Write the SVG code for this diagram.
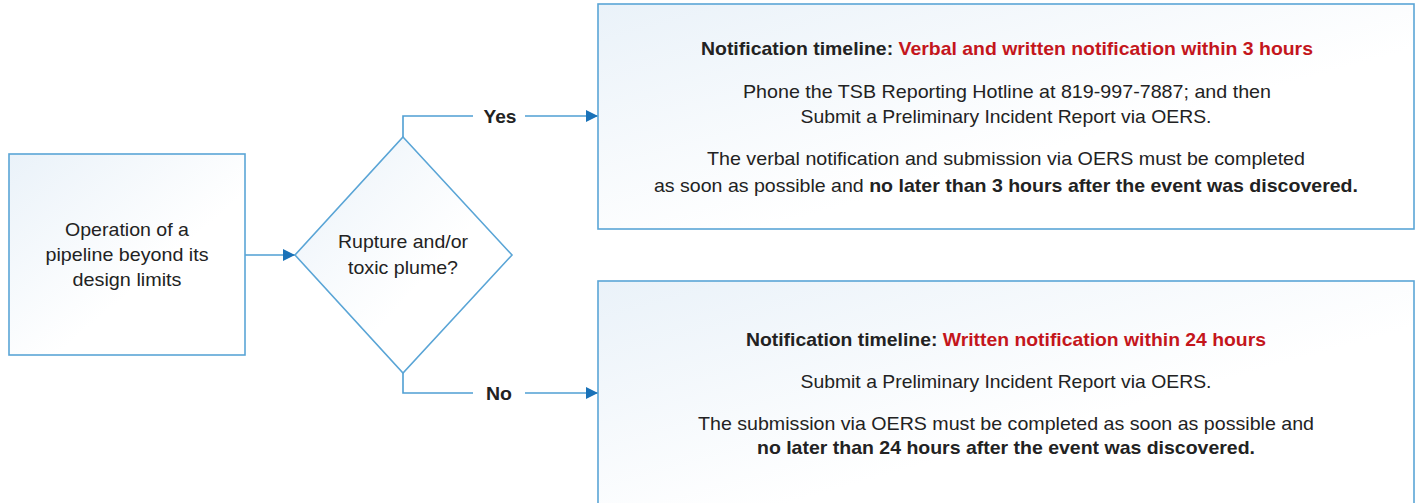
<svg xmlns="http://www.w3.org/2000/svg" width="1418" height="503" viewBox="0 0 1418 503">
<style>
.box{stroke:#5aa5d6;stroke-width:1.6;fill:url(#g)}
.ln{stroke:#4f9fd3;stroke-width:1.6;fill:none}
text{font-family:"Liberation Sans",Arial,sans-serif;font-size:19px;fill:#222;text-anchor:middle;dominant-baseline:central}
.b{font-weight:bold}
.r{fill:#c4161c;font-weight:bold}
</style>
<defs>
<linearGradient id="g" x1="0" y1="0" x2="1" y2="1">
<stop offset="0" stop-color="#eaf2f9"/>
<stop offset="0.6" stop-color="#ffffff"/>
</linearGradient>
<marker id="ah" markerWidth="12" markerHeight="12" viewBox="0 0 12 12" refX="12" refY="6" orient="auto" markerUnits="userSpaceOnUse">
<path d="M0,0 L12,6 L0,12 Z" fill="#1a72b8"/>
</marker>
</defs>
<g id="connectors">
<path class="ln" d="M245,255 L295,255" marker-end="url(#ah)"/>
<path class="ln" d="M403,137 L403,116 L473,116"/>
<path class="ln" d="M525,116 L598,116" marker-end="url(#ah)"/>
<path class="ln" d="M403,373 L403,393 L473,393"/>
<path class="ln" d="M525,393 L598,393" marker-end="url(#ah)"/>
<text class="b" x="500" y="116" textLength="33" lengthAdjust="spacingAndGlyphs">Yes</text>
<text class="b" x="499" y="393" textLength="26" lengthAdjust="spacingAndGlyphs">No</text>
</g>
<g id="start">
<rect class="box" x="9" y="154" width="236" height="201"/>
<text x="127" y="229" textLength="124" lengthAdjust="spacingAndGlyphs">Operation of a</text>
<text x="127" y="254" textLength="163" lengthAdjust="spacingAndGlyphs">pipeline beyond its</text>
<text x="127" y="279" textLength="109" lengthAdjust="spacingAndGlyphs">design limits</text>
</g>
<g id="decision">
<polygon class="box" points="403,137 512,255 403,373 295,255"/>
<text x="403" y="241" textLength="130" lengthAdjust="spacingAndGlyphs">Rupture and/or</text>
<text x="403" y="267" textLength="110" lengthAdjust="spacingAndGlyphs">toxic plume?</text>
</g>
<g id="yes-box">
<rect class="box" x="598" y="4" width="816" height="225"/>
<text x="1007" y="48" textLength="612" lengthAdjust="spacingAndGlyphs"><tspan class="b">Notification timeline: </tspan><tspan class="r">Verbal and written notification within 3 hours</tspan></text>
<text x="1007" y="91" textLength="528" lengthAdjust="spacingAndGlyphs">Phone the TSB Reporting Hotline at 819-997-7887; and then</text>
<text x="1006" y="116" textLength="411" lengthAdjust="spacingAndGlyphs">Submit a Preliminary Incident Report via OERS.</text>
<text x="1006" y="158" textLength="598" lengthAdjust="spacingAndGlyphs">The verbal notification and submission via OERS must be completed</text>
<text x="1006" y="185" textLength="704" lengthAdjust="spacingAndGlyphs">as soon as possible and <tspan class="b">no later than 3 hours after the event was discovered.</tspan></text>
</g>
<g id="no-box">
<rect class="box" x="598" y="281" width="816" height="230"/>
<text x="1006" y="339" textLength="520" lengthAdjust="spacingAndGlyphs"><tspan class="b">Notification timeline: </tspan><tspan class="r">Written notification within 24 hours</tspan></text>
<text x="1006" y="381" textLength="411" lengthAdjust="spacingAndGlyphs">Submit a Preliminary Incident Report via OERS.</text>
<text x="1006" y="423" textLength="616" lengthAdjust="spacingAndGlyphs">The submission via OERS must be completed as soon as possible and</text>
<text x="1006" y="447" textLength="498" lengthAdjust="spacingAndGlyphs" class="b">no later than 24 hours after the event was discovered.</text>
</g>
</svg>
